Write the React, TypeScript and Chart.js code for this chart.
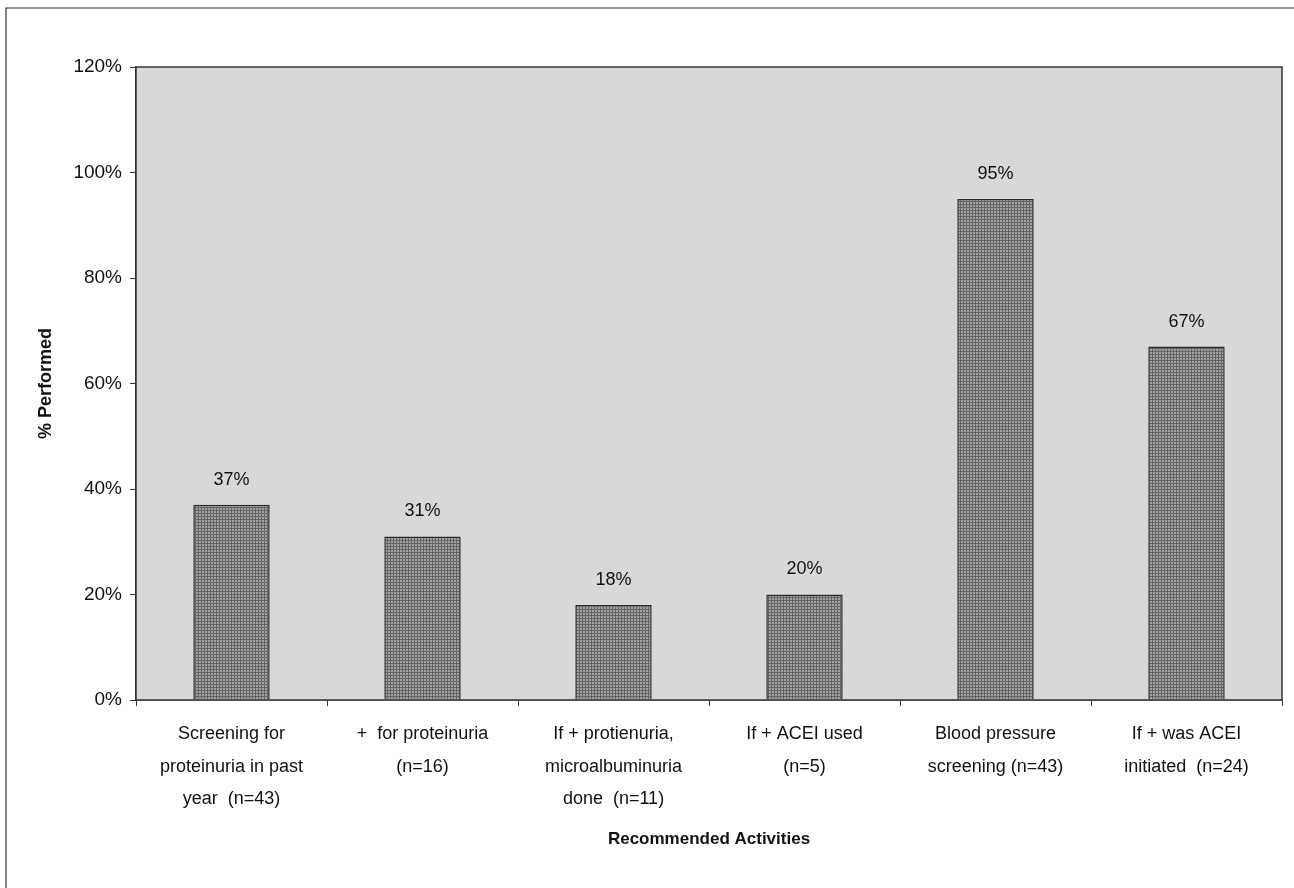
import React, { useEffect, useRef } from "react";
import { Chart, registerables } from "chart.js";

Chart.register(...registerables);

// Recommended activities and the share of patients for whom each was performed
const categories: string[][] = [
  ["Screening for", "proteinuria in past", "year  (n=43)"],
  ["+  for proteinuria", "(n=16)"],
  ["If + protienuria,", "microalbuminuria", "done  (n=11)"],
  ["If + ACEI used", "(n=5)"],
  ["Blood pressure", "screening (n=43)"],
  ["If + was ACEI", "initiated  (n=24)"],
];
const performedPct: number[] = [37, 31, 18, 20, 95, 67];
const yTickMax = 120;
const yTickStep = 20;

const FONT = "'Liberation Sans', Arial, Helvetica, sans-serif";
const INK = "#111111";

function makeHatch(): CanvasPattern | string {
  const tile = document.createElement("canvas");
  tile.width = 3;
  tile.height = 3;
  const c = tile.getContext("2d");
  if (!c) return "#909090";
  c.fillStyle = "#a2a2a2";
  c.fillRect(0, 0, 3, 3);
  c.fillStyle = "#646464";
  c.fillRect(0, 0, 3, 1);
  c.fillRect(0, 0, 1, 3);
  const p = c.createPattern(tile, "repeat");
  return p || "#909090";
}

const plotFrame = {
  id: "plotFrame",
  beforeDatasetsDraw(chart: any) {
    const { ctx, chartArea: a } = chart;
    ctx.save();
    ctx.fillStyle = "#d8d8d8";
    ctx.fillRect(a.left, a.top, a.right - a.left, a.bottom - a.top);
    ctx.restore();
  },
  afterDraw(chart: any) {
    const { ctx, chartArea: a } = chart;
    ctx.save();
    ctx.strokeStyle = "#333333";
    ctx.lineWidth = 1.5;
    ctx.strokeRect(a.left, a.top, a.right - a.left, a.bottom - a.top);
    // outer chart border (top and left edges)
    ctx.lineWidth = 1.2;
    ctx.strokeStyle = "#333";
    ctx.beginPath();
    ctx.moveTo(6, 888);
    ctx.lineTo(6, 8);
    ctx.lineTo(1294, 8);
    ctx.stroke();
    ctx.restore();
  },
};

const valueLabels = {
  id: "valueLabels",
  afterDatasetsDraw(chart: any) {
    const { ctx } = chart;
    const meta = chart.getDatasetMeta(0);
    const data = chart.data.datasets[0].data as number[];
    ctx.save();
    ctx.font = `18px ${FONT}`;
    ctx.fillStyle = INK;
    ctx.textAlign = "center";
    ctx.textBaseline = "middle";
    meta.data.forEach((bar: any, i: number) => {
      ctx.fillText(`${data[i]}%`, bar.x, bar.y - 25);
    });
    ctx.restore();
  },
};

export default function App() {
  const ref = useRef<HTMLCanvasElement | null>(null);

  useEffect(() => {
    if (!ref.current) return;
    const chart = new Chart(ref.current, {
      type: "bar",
      data: {
        labels: categories,
        datasets: [
          {
            data: performedPct,
            backgroundColor: makeHatch() as any,
            borderColor: "#2a2a2a",
            borderWidth: 1.5,
            barPercentage: 1,
            categoryPercentage: 0.4,
          },
        ],
      },
      options: {
        responsive: false,
        animation: false,
        devicePixelRatio: 1,
        layout: { padding: { left: 25, top: 67, right: 12, bottom: 30 } },
        plugins: {
          legend: { display: false },
          tooltip: { enabled: false },
        },
        scales: {
          x: {
            grid: {
              display: true,
              offset: true,
              drawOnChartArea: false,
              drawTicks: true,
              tickLength: 6,
              color: "#333333",
            },
            border: { display: true, color: "#333333", width: 1.5 },
            ticks: {
              color: INK,
              font: { family: FONT, size: 18, lineHeight: 1.8 },
              padding: 12,
              maxRotation: 0,
              autoSkip: false,
            },
            title: {
              display: true,
              text: "Recommended Activities",
              color: INK,
              font: { family: FONT, size: 17, weight: "bold" },
              padding: { top: 0, bottom: 8 },
            },
            afterFit(scale: any) {
              scale.height = 888 - 30 - 700;
            },
          },
          y: {
            min: 0,
            max: yTickMax,
            grid: {
              display: true,
              drawOnChartArea: false,
              drawTicks: true,
              tickLength: 6,
              color: "#333333",
            },
            border: { display: true, color: "#333333", width: 1.5 },
            ticks: {
              stepSize: yTickStep,
              color: INK,
              font: { family: FONT, size: 19 },
              padding: 8,
              callback: (v: any) => `${v}%`,
            },
            title: {
              display: true,
              text: "% Performed",
              color: INK,
              font: { family: FONT, size: 18, weight: "bold" },
              padding: { top: 10, bottom: 0 },
            },
            afterFit(scale: any) {
              scale.width = 136 - 25;
            },
          },
        },
      },
      plugins: [plotFrame, valueLabels],
    });
    return () => chart.destroy();
  }, []);

  return (
    <div
      style={{
        position: "fixed",
        left: 0,
        top: 0,
        width: 1294,
        height: 888,
        background: "#fff",
      }}
    >
      <canvas ref={ref} width={1294} height={888} style={{ width: 1294, height: 888, display: "block" }} />
    </div>
  );
}
